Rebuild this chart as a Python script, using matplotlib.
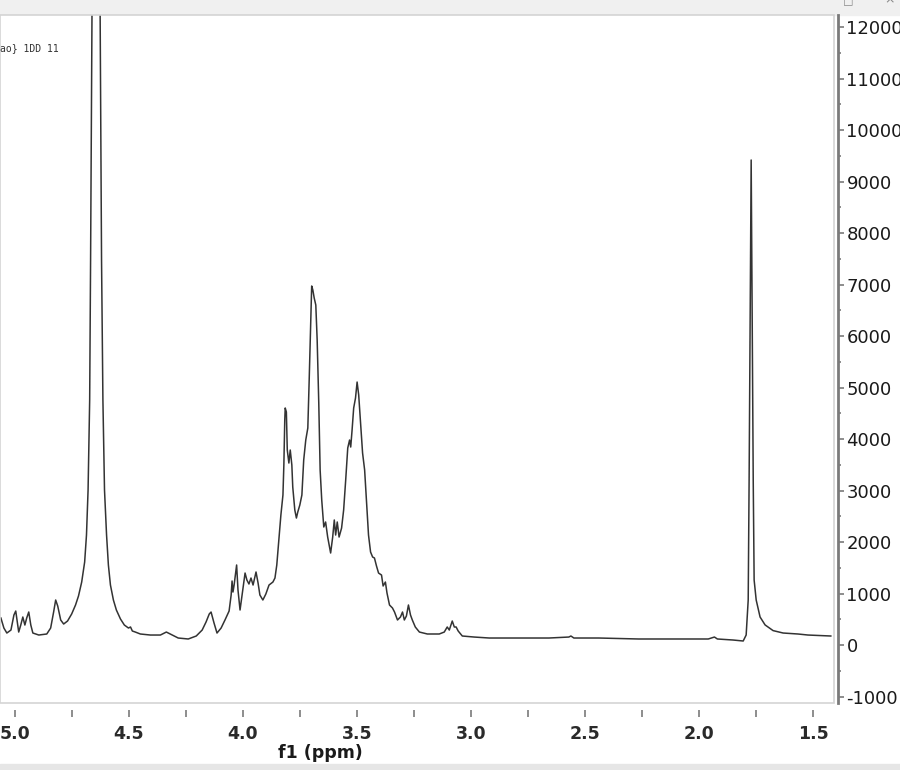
import matplotlib.pyplot as plt
from matplotlib.patches import Rectangle
from matplotlib.ticker import MultipleLocator

# spectrum trace: chemical shift (ppm) and intensity
ppm = [5.061, 5.048, 5.035, 5.017, 5.004, 4.996, 4.983, 4.974, 4.965, 4.956,
       4.948, 4.939, 4.930, 4.921, 4.895, 4.860, 4.843, 4.830, 4.821, 4.812,
       4.799, 4.786, 4.769, 4.751, 4.734, 4.721, 4.707, 4.694, 4.686, 4.679,
       4.672, 4.668, 4.664, 4.659, 4.644, 4.629, 4.624, 4.620, 4.614, 4.607,
       4.598, 4.590, 4.581, 4.568, 4.555, 4.537, 4.520, 4.502, 4.493, 4.485,
       4.472, 4.450, 4.406, 4.362, 4.336, 4.319, 4.284, 4.240, 4.205, 4.179,
       4.162, 4.148, 4.140, 4.127, 4.114, 4.096, 4.079, 4.061, 4.052, 4.048,
       4.044, 4.039, 4.028, 4.022, 4.013, 4.004, 3.991, 3.983, 3.974, 3.965,
       3.956, 3.943, 3.934, 3.926, 3.913, 3.900, 3.886, 3.869, 3.860, 3.852,
       3.843, 3.834, 3.825, 3.821, 3.817, 3.815, 3.810, 3.806, 3.799, 3.793,
       3.786, 3.782, 3.773, 3.766, 3.760, 3.751, 3.742, 3.734, 3.725, 3.716,
       3.710, 3.703, 3.699, 3.694, 3.688, 3.681, 3.675, 3.668, 3.662, 3.655,
       3.646, 3.638, 3.629, 3.616, 3.607, 3.600, 3.594, 3.587, 3.579, 3.568,
       3.559, 3.550, 3.541, 3.533, 3.528, 3.522, 3.515, 3.507, 3.500, 3.493,
       3.485, 3.476, 3.467, 3.459, 3.450, 3.441, 3.432, 3.424, 3.415, 3.406,
       3.393, 3.386, 3.376, 3.369, 3.358, 3.345, 3.336, 3.323, 3.310, 3.301,
       3.293, 3.284, 3.275, 3.266, 3.258, 3.245, 3.227, 3.192, 3.140, 3.118,
       3.105, 3.096, 3.083, 3.074, 3.066, 3.057, 3.039, 2.987, 2.921, 2.790,
       2.659, 2.572, 2.563, 2.550, 2.441, 2.266, 2.092, 1.961, 1.934, 1.921,
       1.852, 1.808, 1.795, 1.786, 1.782, 1.777, 1.773, 1.769, 1.764, 1.760,
       1.751, 1.734, 1.712, 1.677, 1.633, 1.568, 1.524, 1.424]
intensity = [524, 330, 233, 291, 583, 660, 252, 388, 544, 388,
             524, 641, 388, 233, 194, 214, 330, 641, 874, 757,
             486, 408, 466, 602, 777, 952, 1223, 1612, 2136, 3010,
             4758, 7477, 10584, 14468, 60000, 14468, 10584, 7477, 4758, 3010,
             2136, 1554, 1165, 874, 680, 505, 388, 330, 350, 272,
             252, 214, 194, 194, 252, 214, 136, 117, 175, 291,
             447, 602, 641, 427, 233, 330, 486, 660, 971, 1243,
             1029, 1165, 1554, 1068, 680, 971, 1398, 1262, 1185, 1301,
             1165, 1418, 1204, 971, 874, 990, 1165, 1223, 1301, 1554,
             2039, 2525, 2913, 3496, 4370, 4603, 4525, 3787, 3534, 3787,
             3496, 3068, 2622, 2466, 2583, 2719, 2913, 3593, 3981, 4214,
             5146, 6312, 6972, 6894, 6739, 6603, 5923, 4700, 3399, 2816,
             2292, 2389, 2097, 1787, 2097, 2428, 2136, 2389, 2097, 2272,
             2622, 3204, 3826, 3981, 3845, 4175, 4603, 4797, 5107, 4855,
             4311, 3729, 3399, 2816, 2136, 1806, 1709, 1690, 1534, 1398,
             1359, 1146, 1223, 1010, 777, 719, 641, 486, 544, 641,
             486, 563, 777, 583, 486, 350, 252, 214, 214, 252,
             350, 291, 466, 350, 350, 272, 175, 155, 136, 136,
             136, 155, 175, 136, 136, 117, 117, 117, 155, 117,
             97, 78, 194, 874, 3204, 6700, 9419, 6700, 3204, 1262,
             874, 544, 390, 280, 233, 214, 194, 175]

y_ticks = list(range(-1000, 12001, 1000))
x_ticks = [5.0, 4.5, 4.0, 3.5, 3.0, 2.5, 2.0, 1.5]

plt.rcParams['axes.unicode_minus'] = False
fig = plt.figure(figsize=(9, 7.7), dpi=100)
ax = fig.add_axes([0.0, 67 / 770, 834 / 900, 688 / 770])

ax.plot(ppm, intensity, color='#333333', lw=1.1)
ax.set_xlim(5.065, 1.41)
ax.set_ylim(-1126, 12235)

# light frame around the plot area
for s in ['top', 'left']:
    ax.spines[s].set_visible(False)
ax.add_patch(Rectangle((0, 0), 1, 1, transform=ax.transAxes, fill=False,
                       edgecolor='#d4d4d4', lw=1.2, clip_on=False, zorder=5))

# intensity axis on the right, set slightly apart
ax.yaxis.tick_right()
ax.spines['right'].set_position(('outward', 3))
ax.spines['right'].set_color('#7a7a7a')
ax.spines['right'].set_linewidth(2)
ax.set_yticks(y_ticks)
ax.yaxis.set_minor_locator(MultipleLocator(500))
ax.tick_params(axis='y', which='major', direction='out', length=4, width=1.2,
               color='#7a7a7a', pad=2, labelsize=13, labelcolor='#1a1a1a')
ax.tick_params(axis='y', which='minor', direction='out', length=2, width=1.2,
               color='#7a7a7a')

# ppm axis below
ax.spines['bottom'].set_position(('outward', 5))
ax.spines['bottom'].set_visible(False)
ax.set_xticks(x_ticks)
ax.set_xticklabels([f'{v:.1f}' for v in x_ticks])
ax.xaxis.set_minor_locator(MultipleLocator(0.25))
for lab in ax.get_xticklabels():
    lab.set_fontweight('bold')
ax.tick_params(axis='x', which='both', direction='out', length=5, width=1.2,
               color='#7a7a7a', pad=6, labelsize=12.5, labelcolor='#2a2a2a')
ax.set_xlabel('f1 (ppm)', fontsize=12.5, fontweight='bold', color='#1a1a1a')
ax.xaxis.set_label_coords(320 / 834, -50 / 688)
ax.xaxis.label.set_va('center')

# window chrome of the screenshot
fig.add_artist(Rectangle((0, 755 / 770), 1, 15 / 770, transform=fig.transFigure,
                         color='#f0f0f0', zorder=0))
fig.add_artist(Rectangle((0, 0), 1, 6 / 770, transform=fig.transFigure,
                         color='#e6e6e6', zorder=0))
fig.text(843 / 900, 1.0, '\u25a1', fontsize=8, color='#888888', va='center')
fig.text(884 / 900, 1.0, '\u00d7', fontsize=9, color='#888888', va='center')
fig.text(0.0, 1 - 48 / 770, 'ao} 1DD 11', fontsize=7, family='DejaVu Sans Mono',
         color='#333333', va='center')

fig.savefig('out.png', dpi=100)
